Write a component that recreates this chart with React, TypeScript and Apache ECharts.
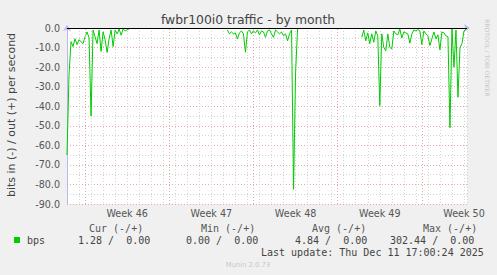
import React, { useEffect, useRef } from 'react';
import * as echarts from 'echarts';

// x values are days since Sat Nov 08 2025 00:00
const xMin = 0.5;
const xMax = 33.75;
const stepDays = 1 / 6; // 4 hour samples

const weekStarts = [2, 9, 16, 23, 30];
const weekLabels = ['Week 46', 'Week 47', 'Week 48', 'Week 49', 'Week 50'];

const seg1Start = 0.5;
const seg1Values = [
  -65, -24, -7, -9.5, -5.5, -8.5, -6, -7, -8, -4.5, -2, -5, -45, -1, -4.5, -8,
  -1, -12, -2, -6, -12.5, -5.5, -1, -9.5, -1, -3, -0.5, -3.7, -0.5, -1.5, -0.8, -0.5,
];
const seg2Start = 13.8333;
const seg2Values = [
  -1, -3, -2, -3, -2.5, -5.6, -2.5, -1.5, -3, -12.4, -2, -1, -3, -1.5, -2.5, -1,
  -3.5, -1.5, -2, -4.8, -1.5, -1, -3, -4.8, -1, -2, -3, -2, -4, -3, -6.5, -3,
  -1, -82.5, -23, -0.5,
];
const seg3Start = 25.0;
const seg3Values = [
  -4.8, -1, -6.5, -2.5, -8, -3, -7.3, -1.5, -4, -39.7, -3, -9.9, -11.6, -3, -9.9, -10.7,
  -1.5, -3, -3.5, -0.5, -5.1, -2, -2.5, -3, -7.8, -3, -1, -1.5, -0.8, -1.5, -8.5, -1.5,
  -3, -4, -9, -5.5, -2, -5.5, -3.5, -11.2, -2, -2.5, -4, -4.5, -51, -0.5, -20, -1,
  -35.4, -10, -8, -1.5, -0.5,
];

const legendHeaders = ['Cur (-/+)', 'Min (-/+)', 'Avg (-/+)', 'Max (-/+)'];
const legendValues = ['1.28 /  0.00', '0.00 /  0.00', '4.84 /  0.00', '302.44 /  0.00'];
const seriesName = 'bps';
const lastUpdate = 'Last update: Thu Dec 11 17:00:24 2025';

function buildData(): (number | null)[][] {
  const segs: [number, number[]][] = [
    [seg1Start, seg1Values],
    [seg2Start, seg2Values],
    [seg3Start, seg3Values],
  ];
  const out: (number | null)[][] = [];
  segs.forEach(([start, vals], si) => {
    vals.forEach((v, i) => out.push([start + i * stepDays, v]));
    if (si < segs.length - 1) {
      out.push([start + vals.length * stepDays, null]);
    }
  });
  return out;
}

export default function App() {
  const ref = useRef<HTMLDivElement>(null);
  useEffect(() => {
    const chart = echarts.init(ref.current!, null, { renderer: 'svg' });
    const weekCenters = weekStarts.map((w) => w + 3.5);
    const mono = 'DejaVu Sans Mono';
    const sans = 'DejaVu Sans';
    const headerX = [89, 201, 312, 423];
    const valueX = [78, 186, 295, 390];
    const graphics: any[] = [
      {
        type: 'text', x: 248, y: 19,
        style: { text: 'fwbr100i0 traffic - by month', font: `12.4px "${sans}"`, fill: '#444', align: 'center', verticalAlign: 'middle' },
      },
      {
        type: 'text', x: 11, y: 115, rotation: Math.PI / 2,
        style: { text: 'bits in (-) / out (+) per second', font: `11px "${sans}"`, fill: '#444', align: 'center', verticalAlign: 'middle' },
      },
      {
        type: 'text', x: 487, y: 58, rotation: -Math.PI / 2,
        style: { text: 'RRDTOOL / TOBI OETIKER', font: `6px "${sans}"`, fill: '#c8c8c8', align: 'center', verticalAlign: 'middle' },
      },
      {
        type: 'rect', shape: { x: 14, y: 237, width: 6, height: 6 },
        style: { fill: '#00cc00' },
      },
      {
        type: 'text', x: 27, y: 240,
        style: { text: seriesName, font: `10px "${mono}"`, fill: '#444', align: 'left', verticalAlign: 'middle' },
      },
      {
        type: 'text', x: 261, y: 252,
        style: { text: lastUpdate, font: `10px "${mono}"`, fill: '#444', align: 'left', verticalAlign: 'middle' },
      },
      {
        type: 'text', x: 248, y: 264.5,
        style: { text: 'Munin 2.0.73', font: `6.8px "${sans}"`, fill: '#c8c8c8', align: 'center', verticalAlign: 'middle' },
      },
    ];
    legendHeaders.forEach((h, i) => {
      graphics.push({
        type: 'text', x: headerX[i], y: 228,
        style: { text: h, font: `10px "${mono}"`, fill: '#555', align: 'left', verticalAlign: 'middle' },
      });
    });
    legendValues.forEach((v, i) => {
      graphics.push({
        type: 'text', x: valueX[i], y: 240,
        style: { text: v, font: `10px "${mono}"`, fill: '#444', align: 'left', verticalAlign: 'middle' },
      });
    });

    chart.setOption({
      animation: false,
      backgroundColor: '#f0f0f0',
      grid: { left: 67, top: 28, width: 400, height: 176, show: true, backgroundColor: '#ffffff', borderWidth: 0 },
      xAxis: {
        type: 'value', min: xMin, max: xMax, interval: 1,
        axisLine: { show: true, lineStyle: { color: '#b8b8ec', width: 1 }, symbol: ['none', 'arrow'], symbolSize: [6, 6], symbolOffset: [0, 3] },
        axisTick: { show: false },
        axisLabel: {
          customValues: weekCenters,
          formatter: (v: number) => {
            const idx = weekCenters.findIndex((c) => Math.abs(c - v) < 0.01);
            return idx >= 0 ? weekLabels[idx] : '';
          },
          fontFamily: sans, fontSize: 9.6, color: '#555', margin: 4,
        },
        splitLine: { show: true, lineStyle: { color: '#d4d4d4', type: [1, 2], width: 1 } },
      },
      yAxis: {
        type: 'value', min: -90, max: 0, interval: 10,
        axisLine: { show: true, lineStyle: { color: '#b8b8ec', width: 1 }, symbol: ['none', 'arrow'], symbolSize: [6, 6], symbolOffset: [0, 3] },
        axisTick: { show: false },
        axisLabel: { formatter: (v: number) => v.toFixed(1), fontFamily: sans, fontSize: 9.6, color: '#555', margin: 7 },
        splitLine: { show: true, lineStyle: { color: '#e8a8a8', type: [1, 2], width: 1 } },
        minorTick: { show: false, splitNumber: 2 },
        minorSplitLine: { show: true, lineStyle: { color: '#d4d4d4', type: [1, 2], width: 1 } },
      },
      graphic: graphics,
      series: [
        {
          type: 'line', data: [], z: 1, silent: true,
          markLine: {
            silent: true, symbol: ['none', 'none'], label: { show: false },
            lineStyle: { color: '#e8a8a8', type: [1, 2], width: 1 },
            data: weekStarts.map((w) => ({ xAxis: w })),
          },
        },
        {
          type: 'line', name: seriesName, data: buildData(), z: 3,
          showSymbol: false, connectNulls: false,
          lineStyle: { color: '#00cc00', width: 1 },
          itemStyle: { color: '#00cc00' },
          markLine: {
            silent: true, symbol: ['none', 'none'], label: { show: false },
            lineStyle: { color: '#000000', type: 'solid', width: 1 },
            data: [{ yAxis: 0 }],
          },
        },
      ],
    });
    return () => chart.dispose();
  }, []);
  return (
    <div
      ref={ref}
      style={{ position: 'absolute', left: 0, top: 0, width: 497, height: 275, background: '#f0f0f0' }}
    />
  );
}
